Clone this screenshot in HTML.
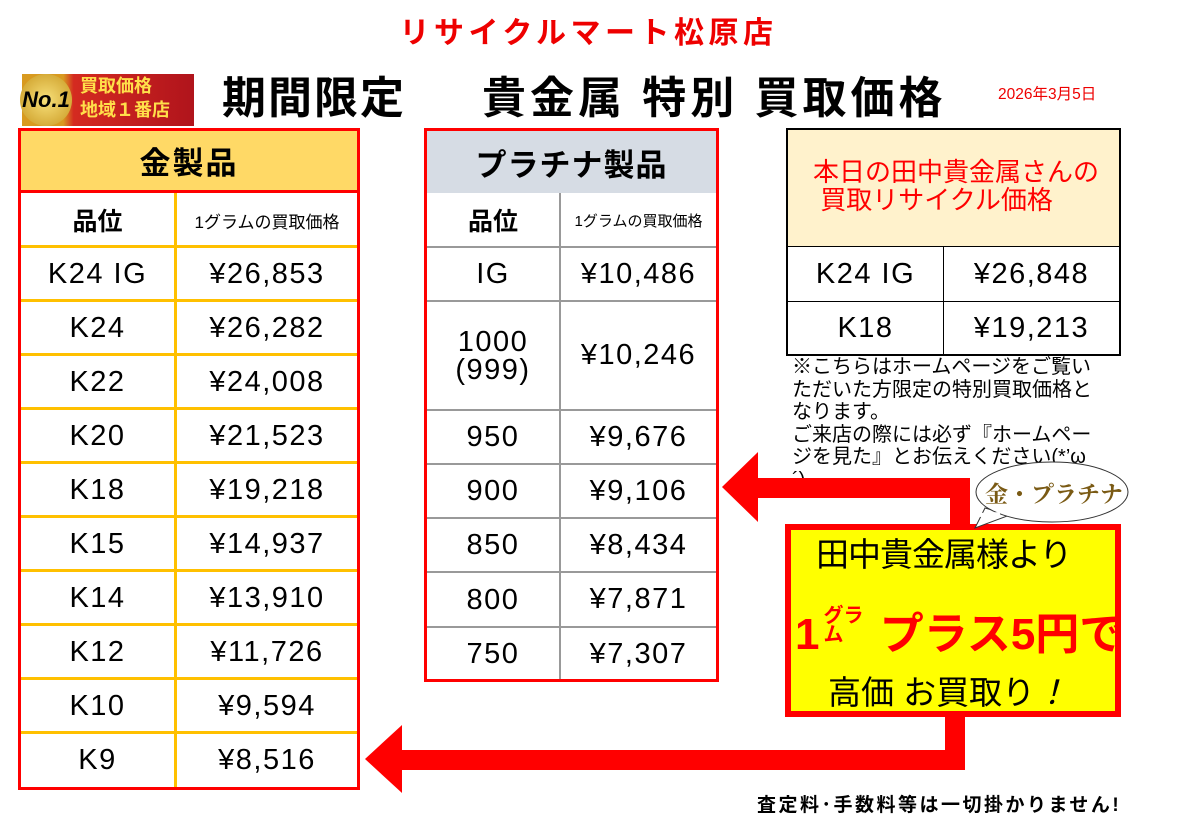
<!DOCTYPE html>
<html><head><meta charset="utf-8"><style>
body{margin:0;width:1177px;height:827px;background:#fff;position:relative;overflow:hidden;font-family:"Liberation Sans","Noto Sans CJK JP",sans-serif;color:#000}
.a{position:absolute;box-sizing:border-box}
.c{display:flex;align-items:center;justify-content:center;text-align:center}
.t{font-size:29px;letter-spacing:1.5px}
</style></head><body>
<div class="a" style="left:0;top:8px;width:1177px;text-align:center;color:#e00;font-size:30px;font-weight:bold;letter-spacing:4.5px">リサイクルマート松原店</div>
<div class="a" style="left:22px;top:74px;width:172px;height:52px;background:linear-gradient(90deg,#d89a20 0 24%,#d42a20 30%,#b0141c);"></div>
<div class="a" style="left:20px;top:74px;width:52px;height:52px;border-radius:50%;background:radial-gradient(#f7e07a,#c8961e);font-weight:bold;font-size:22px;line-height:52px;text-align:center;font-style:italic">No.1</div>
<div class="a" style="left:80px;top:74px;color:#ffe04a;font-size:18px;font-weight:bold;line-height:24px">買取価格<br>地域１番店</div>
<div class="a" style="left:222px;top:62px;font-size:44px;font-weight:bold;letter-spacing:2px">期間限定</div>
<div class="a" style="left:482px;top:62px;font-size:44px;font-weight:bold;letter-spacing:4px">貴金属 特別 買取価格</div>
<div class="a" style="left:998px;top:82px;color:#e00;font-size:15.5px">2026年3月5日</div>

<!-- gold table -->
<div class="a" style="left:18px;top:128px;width:342px;height:662px;border:3px solid #f00"></div>
<div class="a c" style="left:21px;top:131px;width:336px;height:62px;background:#FFD966;border-bottom:3px solid #f00;font-size:31px;font-weight:bold;letter-spacing:2px">金製品</div>
<div class="a" style="left:174px;top:193px;width:3px;height:594px;background:#FFC000"></div>
<div class="a c" style="left:21px;top:193px;width:153px;height:54px;font-size:25px;font-weight:bold">品位</div>
<div class="a c" style="left:177px;top:193px;width:180px;height:54px;font-size:17px">1グラムの買取価格</div>
<div id="g"></div>

<!-- platinum table -->
<div class="a" style="left:424px;top:128px;width:295px;height:554px;border:3px solid #f00"></div>
<div class="a c" style="left:427px;top:131px;width:289px;height:62px;background:#D6DCE4;font-size:31px;font-weight:bold;letter-spacing:1px">プラチナ製品</div>
<div class="a" style="left:559px;top:193px;width:2px;height:486px;background:#999"></div>
<div class="a c" style="left:427px;top:193px;width:132px;height:54px;font-size:25px;font-weight:bold">品位</div>
<div class="a c" style="left:561px;top:193px;width:155px;height:54px;font-size:15px">1グラムの買取価格</div>

<!-- right table -->
<div class="a" style="left:786px;top:128px;width:335px;height:228px;border:2px solid #000"></div>
<div class="a" style="left:788px;top:130px;width:331px;height:117px;background:#FFF2CC;border-bottom:1px solid #000"></div>
<div class="a" style="left:813px;top:158px;color:#f00;font-size:26px;line-height:28px">本日の田中貴金属さんの<br>&nbsp;買取リサイクル価格</div>
<div class="a" style="left:943px;top:247px;width:1px;height:107px;background:#000"></div>
<div class="a" style="left:788px;top:301px;width:331px;height:1px;background:#000"></div>
<div class="a c t" style="left:788px;top:247px;width:155px;height:54px">K24 IG</div>
<div class="a c t" style="left:944px;top:247px;width:175px;height:54px">¥26,848</div>
<div class="a c t" style="left:788px;top:301px;width:155px;height:54px">K18</div>
<div class="a c t" style="left:944px;top:301px;width:175px;height:54px">¥19,213</div>
<div class="a" style="left:792px;top:356px;width:330px;font-size:20px;line-height:22.5px;white-space:nowrap">※こちらはホームページをご覧い<br>ただいた方限定の特別買取価格と<br>なります。<br>ご来店の際には必ず『ホームペー<br>ジを見た』とお伝えください(*’ω<br>´)</div>

<svg class="a" style="left:0;top:0" width="1177" height="827">
<path d="M758 478H970V525H950V498H758Z" fill="#f00"/>
<path d="M722 487L758 452V522Z" fill="#f00"/>
<path d="M945 712H965V770H400V750H945Z" fill="#f00"/>
<path d="M365 759L402 725V793Z" fill="#f00"/>
<rect x="788" y="527" width="330" height="187" fill="#ff0" stroke="#f00" stroke-width="6"/>
<path d="M975 528L985 508L1010 515Z" fill="#fff" stroke="#333"/>
<ellipse cx="1052" cy="492" rx="76" ry="30" fill="#fff" stroke="#333"/>
<path d="M980 515L1000 514" stroke="#fff" stroke-width="4"/>
</svg>
<div class="a" style="left:985px;top:476px;color:#7a5a14;font-family:'Liberation Serif','Noto Serif CJK SC',serif;font-size:23px;font-weight:bold">金・プラチナ</div>
<div class="a" style="left:816px;top:528px;font-size:33px;letter-spacing:-1px">田中貴金属様より</div>
<div class="a" style="left:795px;top:598px;color:#f00;font-size:44px;font-weight:bold;white-space:nowrap">1<span style="font-size:20px;display:inline-block;line-height:19px;vertical-align:8px;width:44px;margin-left:4px">グラ<br>ム</span> プラス5円で</div>
<div class="a" style="left:828px;top:666px;font-size:33px">高価 お買取り<i>！</i></div>
<div class="a" style="left:757px;top:790px;font-size:19px;font-weight:bold;letter-spacing:2.5px">査定料･手数料等は一切掛かりません!</div>

<script>
var g=[["K24 IG","¥26,853"],["K24","¥26,282"],["K22","¥24,008"],["K20","¥21,523"],["K18","¥19,218"],["K15","¥14,937"],["K14","¥13,910"],["K12","¥11,726"],["K10","¥9,594"],["K9","¥8,516"]];
var h="";
for(var i=0;i<10;i++){var y=247+i*54;
h+='<div class="a" style="left:21px;top:'+(y-2)+'px;width:336px;height:3px;background:#FFC000"></div>';
h+='<div class="a c t" style="left:21px;top:'+y+'px;width:153px;height:54px">'+g[i][0]+'</div>';
h+='<div class="a c t" style="left:177px;top:'+y+'px;width:180px;height:54px">'+g[i][1]+'</div>';}
var p=[["IG","¥10,486",247,54],["1000<br>(999)","¥10,246",301,109],["950","¥9,676",410,54],["900","¥9,106",464,54],["850","¥8,434",518,54],["800","¥7,871",572,55],["750","¥7,307",627,54]];
for(var j=0;j<p.length;j++){var q=p[j];
h+='<div class="a" style="left:427px;top:'+(q[2]-1)+'px;width:289px;height:2px;background:#999"></div>';
h+='<div class="a c t" style="left:427px;top:'+q[2]+'px;width:132px;height:'+q[3]+'px;line-height:28px">'+q[0]+'</div>';
h+='<div class="a c t" style="left:561px;top:'+q[2]+'px;width:155px;height:'+q[3]+'px">'+q[1]+'</div>';}
document.getElementById("g").innerHTML=h;
</script>
</body></html>
